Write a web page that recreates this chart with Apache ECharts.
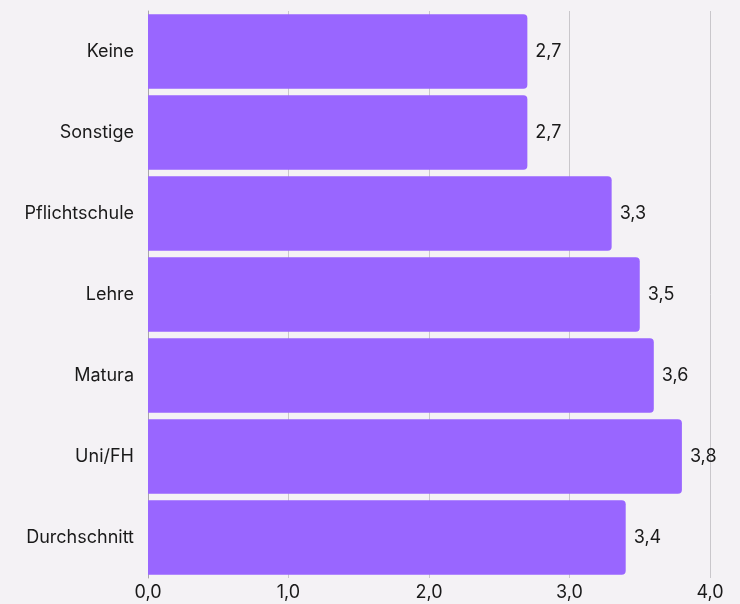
<!DOCTYPE html>
<html>
<head>
<meta charset="utf-8">
<script src="https://cdn.jsdelivr.net/npm/echarts@6/dist/echarts.min.js"></script>
<style>
  html, body { margin: 0; padding: 0; background: #f4f2f5; }
  #chart { width: 740px; height: 604px; }
</style>
</head>
<body>
<div id="chart"></div>
<script>
const categories = ["Keine", "Sonstige", "Pflichtschule", "Lehre", "Matura", "Uni/FH", "Durchschnitt"];
const values = [2.7, 2.7, 3.3, 3.5, 3.6, 3.8, 3.4];
const xTicks = [0, 1, 2, 3, 4];

const fmt = (v) => v.toFixed(1).replace(".", ",");

const myChart = echarts.init(document.getElementById("chart"));

let options = {
  backgroundColor: "#f4f2f5",
  textStyle: { fontFamily: "Inter, 'Noto Sans', sans-serif" },
  grid: { left: 148, right: 30, top: 11, bottom: 26, containLabel: false },
  xAxis: {
    type: "value",
    min: xTicks[0],
    max: xTicks[xTicks.length - 1],
    interval: 1,
    axisLine: { show: false },
    axisTick: { show: false },
    axisLabel: { color: "#1a1a1a", fontSize: 18, margin: 6, formatter: (v) => fmt(v) },
    splitLine: { lineStyle: { color: "#c9c7cb", width: 1 } },
  },
  yAxis: {
    type: "category",
    inverse: true,
    data: categories,
    axisLine: { show: true, lineStyle: { color: "#a8a6aa", width: 1 } },
    axisTick: { show: false },
    axisLabel: { color: "#1a1a1a", fontSize: 18, margin: 14 },
  },
  series: [
    {
      type: "bar",
      data: values,
      barCategoryGap: "8%",
      itemStyle: { color: "#9966ff", borderRadius: [0, 4, 4, 0] },
      label: {
        show: true,
        position: "right",
        distance: 8,
        color: "#1a1a1a",
        fontSize: 18,
        formatter: (p) => fmt(p.value),
      },
    },
  ],
};

myChart.setOption(options);
</script>
</body>
</html>
